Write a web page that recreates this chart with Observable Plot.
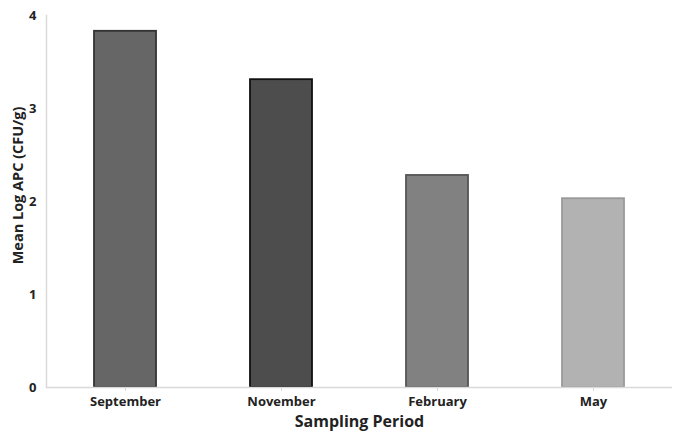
<!DOCTYPE html>
<html>
<head>
<meta charset="utf-8">
<script src="https://cdn.jsdelivr.net/npm/d3@7"></script>
<script src="https://cdn.jsdelivr.net/npm/@observablehq/plot@0.6"></script>
<style>
  html, body { margin: 0; padding: 0; background: #fff; }
  svg { display: block; }
</style>
</head>
<body>
<div id="chart"></div>
<script>
const periods = ["September", "November", "February", "May"];
const meanLogAPC = [3.83, 3.31, 2.28, 2.03];
const fills = ["#666666", "#4d4d4d", "#818181", "#b2b2b2"];
const strokes = ["#333333", "#111111", "#555555", "#999999"];
const yTicks = [0, 1, 2, 3, 4];

const data = periods.map((p, i) => ({period: p, value: meanLogAPC[i], fill: fills[i], stroke: strokes[i]}));

const chart = Plot.plot({
  width: 676,
  height: 438,
  marginLeft: 46,
  marginRight: 4,
  marginTop: 15,
  marginBottom: 51,
  style: {fontFamily: "'Open Sans', sans-serif", fontSize: "13px", fontWeight: "bold", color: "#222", background: "#fff"},
  x: {domain: periods, paddingInner: 0.6, paddingOuter: 0.3, label: null},
  y: {domain: [0, 4], label: null},
  marks: [
    Plot.barY(data, {x: "period", y: "value", fill: "fill", stroke: "stroke", strokeWidth: 1.8}),
    Plot.ruleY([0], {stroke: "#d9d9d9", strokeWidth: 1.5}),
    Plot.frame({anchor: "left", stroke: "#d9d9d9", strokeWidth: 1.5}),
    Plot.axisY({ticks: yTicks, tickSize: 0, tickPadding: 10, tickFormat: d3.format("d"), fontSize: 13, fontWeight: "bold", label: null}),
    Plot.axisX({tickSize: 4, stroke: "#d9d9d9", tickPadding: 5, fontSize: 13, fontWeight: "bold", label: null}),
    Plot.text(["Mean Log APC (CFU/g)"], {frameAnchor: "left", textAnchor: "middle", dx: -28, dy: -16, rotate: -90, fontSize: 14.5, fontWeight: "bold", fill: "#222"}),
    Plot.text(["Sampling Period"], {frameAnchor: "bottom", dy: 39, fontSize: 16, fontWeight: "bold", fill: "#222"})
  ]
});
document.getElementById("chart").appendChild(chart);
</script>
</body>
</html>
